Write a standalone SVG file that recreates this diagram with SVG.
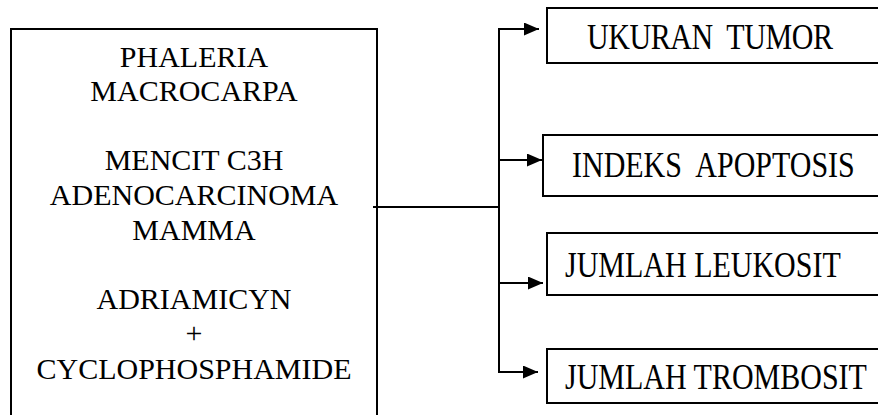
<svg xmlns="http://www.w3.org/2000/svg" width="878" height="415" viewBox="0 0 878 415">
<defs>
<style>
.box{fill:#fff;stroke:#000;stroke-width:2}
.t{font-family:"Liberation Serif","Times New Roman",serif;font-size:30px;fill:#000}
.c{text-anchor:middle}
.ln{fill:none;stroke:#000;stroke-width:2}
</style>
<marker id="ah" markerUnits="userSpaceOnUse" markerWidth="15" markerHeight="13" refX="15" refY="6.5" orient="auto">
<path d="M0,0 L15,6.5 L0,13 Z" fill="#000"/>
</marker>
</defs>
<rect width="878" height="415" fill="#fff"/>
<g id="source">
<rect class="box" x="11" y="29" width="366" height="400"/>
<text class="t c" x="194" y="66.5">PHALERIA</text>
<text class="t c" x="194" y="101">MACROCARPA</text>
<text class="t c" x="194" y="170">MENCIT C3H</text>
<text class="t c" x="194" y="204.5">ADENOCARCINOMA</text>
<text class="t c" x="194" y="239.5">MAMMA</text>
<text class="t c" x="194" y="309">ADRIAMICYN</text>
<text class="t c" x="194" y="343">+</text>
<text class="t c" x="194" y="378.5">CYCLOPHOSPHAMIDE</text>
</g>
<g id="connectors">
<path class="ln" d="M373,207 H499"/>
<path class="ln" d="M499,29 V372"/>
<path class="ln" d="M498,29 H539" marker-end="url(#ah)"/>
<path class="ln" d="M499,160 H542" marker-end="url(#ah)"/>
<path class="ln" d="M499,283 H543" marker-end="url(#ah)"/>
<path class="ln" d="M498,372 H538" marker-end="url(#ah)"/>
</g>
<g id="ukuran-tumor">
<rect class="box" x="547" y="8" width="332" height="55"/>
<text class="t" xml:space="preserve" transform="translate(587 49) scale(1 1.2)" textLength="246">UKURAN  TUMOR</text>
</g>
<g id="indeks-apoptosis">
<rect class="box" x="543" y="135" width="336" height="61"/>
<text class="t" xml:space="preserve" transform="translate(572 177) scale(1 1.2)">INDEKS  APOPTOSIS</text>
</g>
<g id="jumlah-leukosit">
<rect class="box" x="547" y="233" width="332" height="62"/>
<text class="t" transform="translate(565 276.5) scale(1 1.2)">JUMLAH LEUKOSIT</text>
</g>
<g id="jumlah-trombosit">
<rect class="box" x="547" y="349" width="332" height="54"/>
<text class="t" transform="translate(565 389) scale(1 1.2)">JUMLAH TROMBOSIT</text>
</g>
</svg>
